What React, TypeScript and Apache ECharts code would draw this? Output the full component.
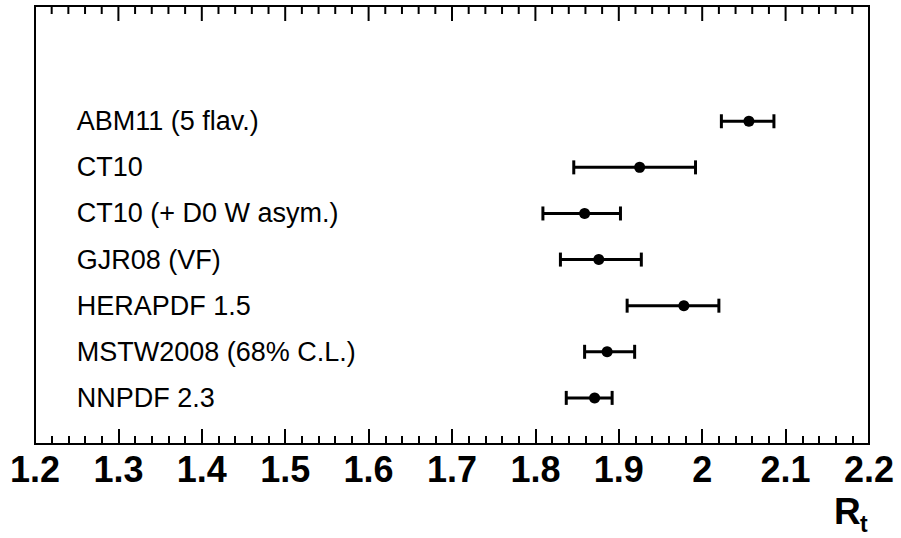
import React, { useEffect, useRef } from "react";
import * as echarts from "echarts";

const models = [
  "ABM11 (5 flav.)",
  "CT10",
  "CT10 (+ D0 W asym.)",
  "GJR08 (VF)",
  "HERAPDF 1.5",
  "MSTW2008 (68% C.L.)",
  "NNPDF 2.3",
];
const central = [2.056, 1.925, 1.859, 1.876, 1.978, 1.886, 1.871];
const lower = [2.023, 1.846, 1.809, 1.83, 1.91, 1.859, 1.837];
const upper = [2.086, 1.992, 1.902, 1.927, 2.02, 1.919, 1.892];
const rowPos = [7, 6, 5, 4, 3, 2, 1];
const labelX = 1.25;
const xMin = 1.2;
const xMax = 2.2;
const xStep = 0.1;
const yMin = 0;
const yMax = 9.5;
const minorPerMajor = 5;

export default function App() {
  const ref = useRef<HTMLDivElement>(null);
  useEffect(() => {
    if (!ref.current) return;
    const chart = echarts.init(ref.current, undefined, { renderer: "svg" });
    const font = "'Liberation Sans', Arial, Helvetica, sans-serif";
    const tickStyle = { color: "#000", width: 2 };
    // top-edge tick marks (mirror of the bottom axis ticks)
    const topTicks: number[][] = [];
    const nMajor = Math.round((xMax - xMin) / xStep);
    for (let k = 0; k <= nMajor * minorPerMajor; k++) {
      const v = +(xMin + (k * xStep) / minorPerMajor).toFixed(4);
      topTicks.push([v, yMax, k % minorPerMajor === 0 ? 15 : 8]);
    }
    chart.setOption({
      animation: false,
      backgroundColor: "#fff",
      grid: {
        left: 35,
        right: 32,
        top: 6,
        bottom: 94,
        outerBoundsMode: "none",
        containLabel: false,
        show: true,
        borderColor: "#000",
        borderWidth: 2,
        backgroundColor: "transparent",
      },
      xAxis: {
        type: "value",
        min: xMin,
        max: xMax,
        interval: xStep,
        position: "bottom",
        axisLine: { show: true, onZero: false, lineStyle: tickStyle },
        axisTick: { show: true, inside: true, length: 15, lineStyle: tickStyle },
        minorTick: { show: true, splitNumber: minorPerMajor, length: 8, lineStyle: tickStyle },
        splitLine: { show: false },
        axisLabel: {
          show: true,
          color: "#000",
          fontFamily: font,
          fontWeight: "bold",
          fontSize: 36,
          margin: 7,
        },
      },
      yAxis: { type: "value", min: yMin, max: yMax, show: false },
      series: [
        {
          type: "custom",
          data: topTicks,
          dimensions: ["x", "y", "len"],
          encode: { x: 0, y: 1 },
          clip: false,
          renderItem: (params: any, api: any) => {
            const p = api.coord([api.value(0), api.value(1)]);
            const len = api.value(2);
            return {
              type: "line",
              shape: { x1: p[0], y1: p[1], x2: p[0], y2: p[1] + len },
              style: { stroke: "#000", lineWidth: 2 },
            };
          },
          silent: true,
        },
        {
          type: "custom",
          data: rowPos.map((y, i) => [y, lower[i], upper[i]]),
          renderItem: (params: any, api: any) => {
            const y = api.value(0);
            const p1 = api.coord([api.value(1), y]);
            const p2 = api.coord([api.value(2), y]);
            const cap = 7;
            const style = { stroke: "#000", lineWidth: 3 };
            return {
              type: "group",
              children: [
                { type: "line", shape: { x1: p1[0], y1: p1[1], x2: p2[0], y2: p2[1] }, style },
                { type: "line", shape: { x1: p1[0], y1: p1[1] - cap, x2: p1[0], y2: p1[1] + cap }, style },
                { type: "line", shape: { x1: p2[0], y1: p2[1] - cap, x2: p2[0], y2: p2[1] + cap }, style },
              ],
            };
          },
          encode: { x: [1, 2], y: 0 },
          silent: true,
        },
        {
          type: "scatter",
          data: rowPos.map((y, i) => [central[i], y]),
          symbol: "circle",
          symbolSize: 11,
          itemStyle: { color: "#000", opacity: 1 },
          silent: true,
        },
        {
          type: "scatter",
          data: rowPos.map((y, i) => ({ value: [labelX, y], name: models[i] })),
          symbolSize: 0,
          itemStyle: { color: "transparent", opacity: 1 },
          label: {
            show: true,
            position: "right",
            distance: 0,
            formatter: (p: any) => p.name,
            color: "#000",
            fontFamily: font,
            fontSize: 27,
          },
          silent: true,
        },
      ],
      graphic: [
        {
          type: "text",
          x: 834,
          y: 493,
          style: {
            text: "R",
            font: "bold 37px 'Liberation Sans', Arial, sans-serif",
            fill: "#000",
            verticalAlign: "top",
          },
        },
        {
          type: "text",
          x: 860,
          y: 512,
          style: {
            text: "t",
            font: "bold 23px 'Liberation Sans', Arial, sans-serif",
            fill: "#000",
            verticalAlign: "top",
          },
        },
      ],
    });
    return () => chart.dispose();
  }, []);
  return (
    <div
      ref={ref}
      style={{ position: "fixed", left: 0, top: 0, width: 901, height: 538, background: "#fff" }}
    />
  );
}
